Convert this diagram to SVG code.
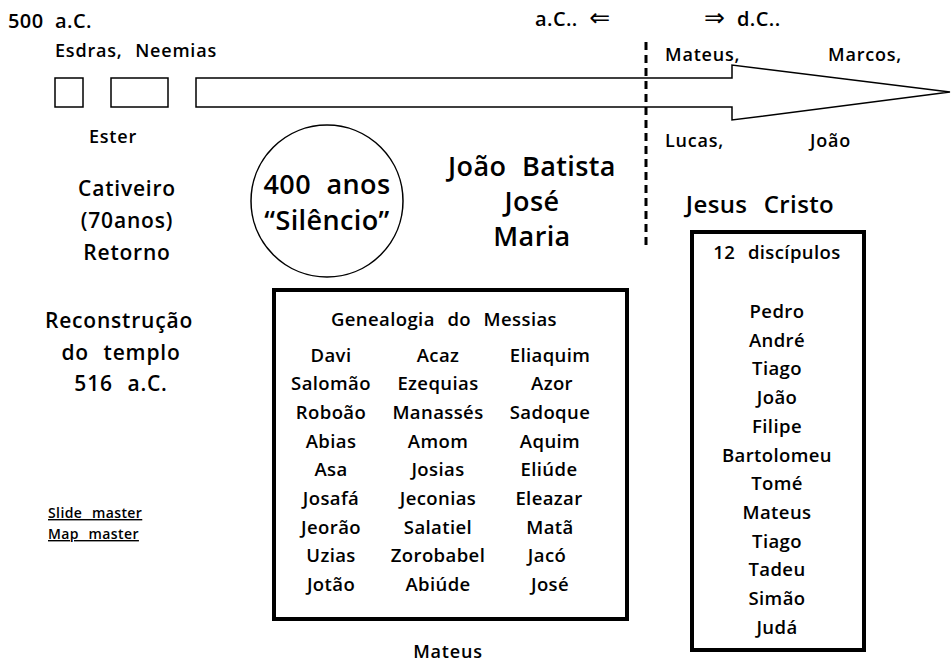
<svg xmlns="http://www.w3.org/2000/svg" width="951" height="663" viewBox="0 0 951 663">
<style>
text{font-family:"Open Sans","Liberation Sans",sans-serif;font-weight:600;fill:#000;word-spacing:0.4em;letter-spacing:0.4px}
.c{text-anchor:middle}
.s15{font-size:18px;letter-spacing:0.8px}
.s16{font-size:18.5px}
.s18{font-size:21px;letter-spacing:0.8px}
.hd{font-size:20px;word-spacing:0.3em}
.arr{font-family:"DejaVu Sans",sans-serif;font-weight:400;font-size:25px}
.s22{font-size:24px}
.s24{font-size:27px;word-spacing:0.3em}
.s12{font-size:14px;text-decoration:underline}
.thin{fill:#fff;stroke:#000;stroke-width:1.5}
.box{fill:#fff;stroke:#000;stroke-width:4}
</style>
<rect width="951" height="663" fill="#fff"/>
<g id="timeline">
<rect class="thin" x="55" y="78" width="28" height="29"/>
<rect class="thin" x="111" y="78" width="57" height="29"/>
<polygon class="thin" points="196,78 732,78 732,65 950,92 732,120 732,107 196,107"/>
</g>
<g id="connectors">
<line x1="646" y1="42" x2="646" y2="250" stroke="#000" stroke-width="3" stroke-dasharray="8,5"/>
</g>
<g id="header">
<text class="hd" x="8" y="28">500 a.C.</text>
<text class="hd" x="535" y="26">a.C.. <tspan class="arr">⇐</tspan></text>
<text class="hd" x="704" y="26"><tspan class="arr">⇒</tspan> d.C..</text>
</g>
<g id="left">
<text class="s15" x="55" y="57">Esdras, Neemias</text>
<text class="s15 c" x="113" y="143">Ester</text>
<text class="s18 c" x="127" y="196">Cativeiro</text>
<text class="s18 c" x="127" y="228">(70anos)</text>
<text class="s18 c" x="127" y="260">Retorno</text>
<text class="s18 c" x="119" y="328">Reconstrução</text>
<text class="s18 c" x="121" y="360">do templo</text>
<text class="s18 c" x="121" y="391">516 a.C.</text>
<text class="s12" x="48" y="518">Slide master</text>
<text class="s12" x="48" y="539">Map master</text>
</g>
<g id="silencio">
<circle class="thin" cx="327" cy="201" r="76"/>
<text class="s24 c" x="327" y="194">400 anos</text>
<text class="s24 c" x="327" y="230">“Silêncio”</text>
</g>
<g id="evangelhos">
<text class="s15" x="665" y="61">Mateus,</text>
<text class="s15" x="828" y="61">Marcos,</text>
<text class="s15" x="665" y="147">Lucas,</text>
<text class="s15" x="810" y="147">João</text>
</g>
<g id="familia">
<text class="s24 c" x="532" y="176">João Batista</text>
<text class="s24 c" x="532" y="211">José</text>
<text class="s24 c" x="532" y="246">Maria</text>
</g>
<g id="jesus">
<text class="s22 c" x="760" y="213">Jesus Cristo</text>
<rect class="box" x="692" y="232" width="172" height="418"/>
<text class="s16 c" x="777" y="259">12 discípulos</text>
<text class="s16 c" x="777" y="318">Pedro</text>
<text class="s16 c" x="777" y="347">André</text>
<text class="s16 c" x="777" y="375">Tiago</text>
<text class="s16 c" x="777" y="404">João</text>
<text class="s16 c" x="777" y="433">Filipe</text>
<text class="s16 c" x="777" y="462">Bartolomeu</text>
<text class="s16 c" x="777" y="490">Tomé</text>
<text class="s16 c" x="777" y="519">Mateus</text>
<text class="s16 c" x="777" y="548">Tiago</text>
<text class="s16 c" x="777" y="576">Tadeu</text>
<text class="s16 c" x="777" y="605">Simão</text>
<text class="s16 c" x="777" y="634">Judá</text>
</g>
<g id="genealogia">
<rect class="box" x="274" y="290" width="353" height="329"/>
<text class="s16 c" x="444" y="326">Genealogia do Messias</text>
<g class="s16 c">
<text x="331" y="362">Davi</text>
<text x="331" y="390">Salomão</text>
<text x="331" y="419">Roboão</text>
<text x="331" y="448">Abias</text>
<text x="331" y="476">Asa</text>
<text x="331" y="505">Josafá</text>
<text x="331" y="534">Jeorão</text>
<text x="331" y="562">Uzias</text>
<text x="331" y="591">Jotão</text>
<text x="438" y="362">Acaz</text>
<text x="438" y="390">Ezequias</text>
<text x="438" y="419">Manassés</text>
<text x="438" y="448">Amom</text>
<text x="438" y="476">Josias</text>
<text x="438" y="505">Jeconias</text>
<text x="438" y="534">Salatiel</text>
<text x="438" y="562">Zorobabel</text>
<text x="438" y="591">Abiúde</text>
<text x="550" y="362">Eliaquim</text>
<text x="552" y="390">Azor</text>
<text x="550" y="419">Sadoque</text>
<text x="550" y="448">Aquim</text>
<text x="549" y="476">Eliúde</text>
<text x="549" y="505">Eleazar</text>
<text x="550" y="534">Matã</text>
<text x="547" y="562">Jacó</text>
<text x="550" y="591">José</text>
</g>
<text class="s15 c" x="448" y="658">Mateus</text>
</g>
</svg>
